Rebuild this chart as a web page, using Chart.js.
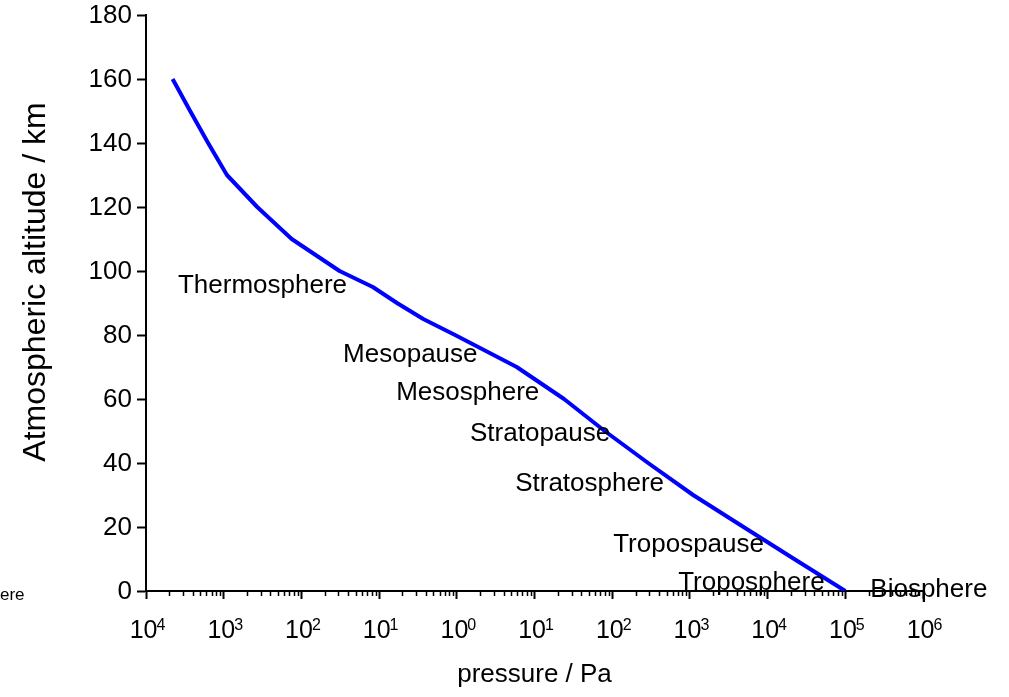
<!DOCTYPE html>
<html>
<head>
<meta charset="utf-8">
<script src="https://cdn.jsdelivr.net/npm/chart.js@4/dist/chart.umd.min.js"></script>
<style>
html, body { margin: 0; padding: 0; background: #ffffff; }
canvas { display: block; }
</style>
</head>
<body>
<canvas id="chart" width="1009" height="697"></canvas>
<script>
// ---- data ----
const altitudeKm = [160, 150, 140, 130, 120, 110, 100, 95, 90, 85, 80, 70, 60, 50, 40, 30, 20, 10, 0];
const pressurePa = [2.2e-4, 3.7e-4, 6.3e-4, 1.1e-3, 2.7e-3, 7.5e-3, 3.1e-2, 8.3e-2, 0.17, 0.37, 0.95, 5.9, 24, 80, 290, 1100, 4900, 22000, 100000];

const xTickValues = [1e-4, 1e-3, 1e-2, 1e-1, 1, 10, 100, 1e3, 1e4, 1e5, 1e6];
const xTickBases = ['10', '10', '10', '10', '10', '10', '10', '10', '10', '10', '10'];
const xTickExponents = ['4', '3', '2', '1', '0', '1', '2', '3', '4', '5', '6'];
const xMinorMultipliers = [2, 3, 4, 5, 6, 7, 8, 9];
const yTickValues = [0, 20, 40, 60, 80, 100, 120, 140, 160, 180];
const yTickLabels = ['0', '20', '40', '60', '80', '100', '120', '140', '160', '180'];

const layerNames = ['Thermosphere', 'Mesopause', 'Mesosphere', 'Stratopause', 'Stratosphere', 'Tropospause', 'Troposphere', 'Biosphere', 'ere'];
const layerPressure = [2.58e-4, 0.0344, 0.166, 1.48, 5.64, 103, 706, 2.1e5, 1.32e-6];
const layerAltitude = [93.1, 71.6, 59.7, 46.9, 31.25, 12.2, 0.3, -1.9, -2.8];

const xTitle = 'pressure / Pa';
const yTitle = 'Atmospheric altitude / km';

// ---- styling ----
const FAMILY = '"Liberation Sans", Arial, Helvetica, sans-serif';
Chart.defaults.font.family = FAMILY;
Chart.defaults.color = '#000000';

const minorTickValues = [];
xTickValues.slice(0, -1).forEach(function (d) {
  xMinorMultipliers.forEach(function (m) { minorTickValues.push(d * m); });
});

const overlay = {
  id: 'overlay',
  afterDraw: function (chart) {
    const ctx = chart.ctx;
    const xs = chart.scales.x;
    const ys = chart.scales.y;
    const yb = ys.getPixelForValue(0);
    const xl = xs.getPixelForValue(xTickValues[0]);
    ctx.save();
    ctx.fillStyle = '#000000';
    // minor ticks
    ctx.strokeStyle = '#000000';
    ctx.lineWidth = 1.5;
    minorTickValues.forEach(function (v) {
      const px = Math.round(xs.getPixelForValue(v)) + 0.5;
      ctx.beginPath();
      ctx.moveTo(px, yb);
      ctx.lineTo(px, yb + 5);
      ctx.stroke();
    });
    // y tick labels
    ctx.font = '26px ' + FAMILY;
    ctx.textAlign = 'right';
    ctx.textBaseline = 'middle';
    yTickValues.forEach(function (v, i) {
      ctx.fillText(yTickLabels[i], xl - 14, ys.getPixelForValue(v) + 1);
    });
    // x tick labels with superscript exponents
    ctx.textBaseline = 'alphabetic';
    xTickValues.forEach(function (v, i) {
      const px = xs.getPixelForValue(v);
      ctx.font = '25px ' + FAMILY;
      ctx.textAlign = 'right';
      ctx.fillText(xTickBases[i], px + 11.5, yb + 47);
      ctx.font = '16px ' + FAMILY;
      ctx.textAlign = 'left';
      ctx.fillText(xTickExponents[i], px + 10.5, yb + 39);
    });
    // y axis title
    ctx.save();
    ctx.translate(45, 282);
    ctx.rotate(-Math.PI / 2);
    ctx.font = '32px ' + FAMILY;
    ctx.textAlign = 'center';
    ctx.textBaseline = 'alphabetic';
    ctx.fillText(yTitle, 0, 0);
    ctx.restore();
    // layer annotations
    ctx.textBaseline = 'alphabetic';
    layerNames.forEach(function (name, i) {
      ctx.font = (name === 'ere' ? '17px ' : '26px ') + FAMILY;
      ctx.textAlign = 'left';
      ctx.fillText(name, xs.getPixelForValue(layerPressure[i]), ys.getPixelForValue(layerAltitude[i]));
    });
    ctx.restore();
  }
};

new Chart(document.getElementById('chart'), {
  type: 'line',
  data: {
    datasets: [{
      data: pressurePa.map(function (p, i) { return { x: p, y: altitudeKm[i] }; }),
      borderColor: '#0000ff',
      borderWidth: 4,
      borderJoinStyle: 'round',
      pointRadius: 0,
      tension: 0,
      fill: false
    }]
  },
  options: {
    responsive: false,
    animation: false,
    layout: { padding: { left: 0, right: 86, top: 15, bottom: 0 } },
    plugins: { legend: { display: false }, tooltip: { enabled: false } },
    scales: {
      x: {
        type: 'logarithmic',
        position: 'bottom',
        min: 1e-4,
        max: 1e6,
        afterBuildTicks: function (s) { s.ticks = xTickValues.map(function (v) { return { value: v }; }); },
        afterFit: function (s) { s.height = 106; },
        ticks: { display: false },
        grid: { drawOnChartArea: false, drawTicks: true, tickLength: 8, tickWidth: 2, tickColor: '#000000' },
        border: { display: true, color: '#000000', width: 2 },
        title: { display: true, text: xTitle, color: '#000000', font: { size: 26, family: FAMILY }, padding: { top: 0, bottom: 7 } }
      },
      y: {
        type: 'linear',
        min: 0,
        max: 180,
        afterBuildTicks: function (s) { s.ticks = yTickValues.map(function (v) { return { value: v }; }); },
        afterFit: function (s) { s.width = 146; },
        ticks: { display: false },
        grid: { drawOnChartArea: false, drawTicks: true, tickLength: 9, tickWidth: 2, tickColor: '#000000' },
        border: { display: true, color: '#000000', width: 2 }
      }
    }
  },
  plugins: [overlay]
});
</script>
</body>
</html>
